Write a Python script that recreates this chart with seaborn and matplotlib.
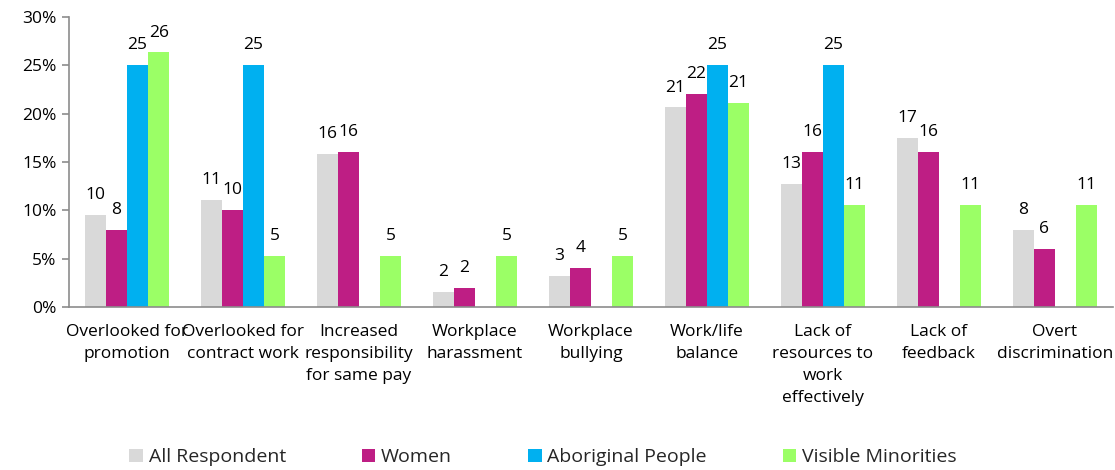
import numpy as np
import pandas as pd
import matplotlib
matplotlib.use("Agg")
import matplotlib.pyplot as plt
import seaborn as sns
from matplotlib.ticker import FuncFormatter

issues = [
    "Overlooked for\npromotion",
    "Overlooked for\ncontract work",
    "Increased\nresponsibility\nfor same pay",
    "Workplace\nharassment",
    "Workplace\nbullying",
    "Work/life\nbalance",
    "Lack of\nresources to\nwork\neffectively",
    "Lack of\nfeedback",
    "Overt\ndiscrimination",
]
groups = ["All Respondent", "Women", "Aboriginal People", "Visible Minorities"]

all_respondent = [9.52, 11.11, 15.87, 1.59, 3.17, 20.63, 12.70, 17.46, 7.94]
women = [8.0, 10.0, 16.0, 2.0, 4.0, 22.0, 16.0, 16.0, 6.0]
aboriginal = [25.0, 25.0, 0.0, 0.0, 0.0, 25.0, 25.0, 0.0, 0.0]
visible_minorities = [26.32, 5.26, 5.26, 5.26, 5.26, 21.05, 10.53, 10.53, 10.53]

series = [all_respondent, women, aboriginal, visible_minorities]
colors = ["#D9D9D9", "#BE1E84", "#00B0F0", "#9BFF66"]

df = pd.DataFrame(
    [(iss, g, v) for g, vals in zip(groups, series) for iss, v in zip(issues, vals)],
    columns=["issue", "group", "pct"],
)

sns.set_theme(style="white")
plt.rcParams["font.family"] = ["Open Sans", "DejaVu Sans"]

fig = plt.figure(figsize=(11.15, 4.7), dpi=100)
ax = fig.add_axes([0.062, 0.347, 0.936, 0.617])

sns.barplot(
    data=df, x="issue", y="pct", hue="group", order=issues, hue_order=groups,
    palette=colors, width=0.725, gap=0, linewidth=0, saturation=1,
    errorbar=None, ax=ax, legend=True,
)

# value labels above every non-empty bar
for cont, vals in zip(ax.containers, series):
    for bar, v in zip(cont, vals):
        if v <= 0:
            continue
        ax.annotate(
            f"{v:.0f}", (bar.get_x() + bar.get_width() / 2, v),
            xytext=(0, 11.5), textcoords="offset points",
            ha="center", va="baseline", fontsize=12.5, color="#000000",
        )

ax.set_ylim(0, 30)
ax.set_xlim(-0.5, len(issues) - 0.5)
ax.set_yticks(np.arange(0, 31, 5))
ax.yaxis.set_major_formatter(FuncFormatter(lambda y, _: f"{y:.0f}%"))
ax.set_xlabel("")
ax.set_ylabel("")

spine_c = "#8C8C8C"
for s in ["top", "right"]:
    ax.spines[s].set_visible(False)
for s in ["left", "bottom"]:
    ax.spines[s].set_color(spine_c)
    ax.spines[s].set_linewidth(1.2)

ax.set_xticks(np.arange(-0.5, len(issues), 1), minor=True)
ax.tick_params(axis="x", which="major", length=0, pad=12, labelsize=12.5, labelcolor="black")
ax.tick_params(axis="x", which="minor", length=5, width=1.2, color=spine_c, direction="out")
ax.tick_params(axis="y", length=5, width=1.2, color=spine_c, direction="out",
               labelsize=12.5, labelcolor="black", pad=4, left=True)
for lbl in ax.get_xticklabels():
    lbl.set_linespacing(1.5)

handles, labels = ax.get_legend_handles_labels()
ax.get_legend().remove()
fig.legend(
    handles, labels, loc="center", bbox_to_anchor=(0.487, 0.027), ncol=4,
    frameon=False, fontsize=14, handlelength=0.7, handleheight=0.7,
    handletextpad=0.3, columnspacing=3.9,
)

fig.savefig("out.png", dpi=100)
